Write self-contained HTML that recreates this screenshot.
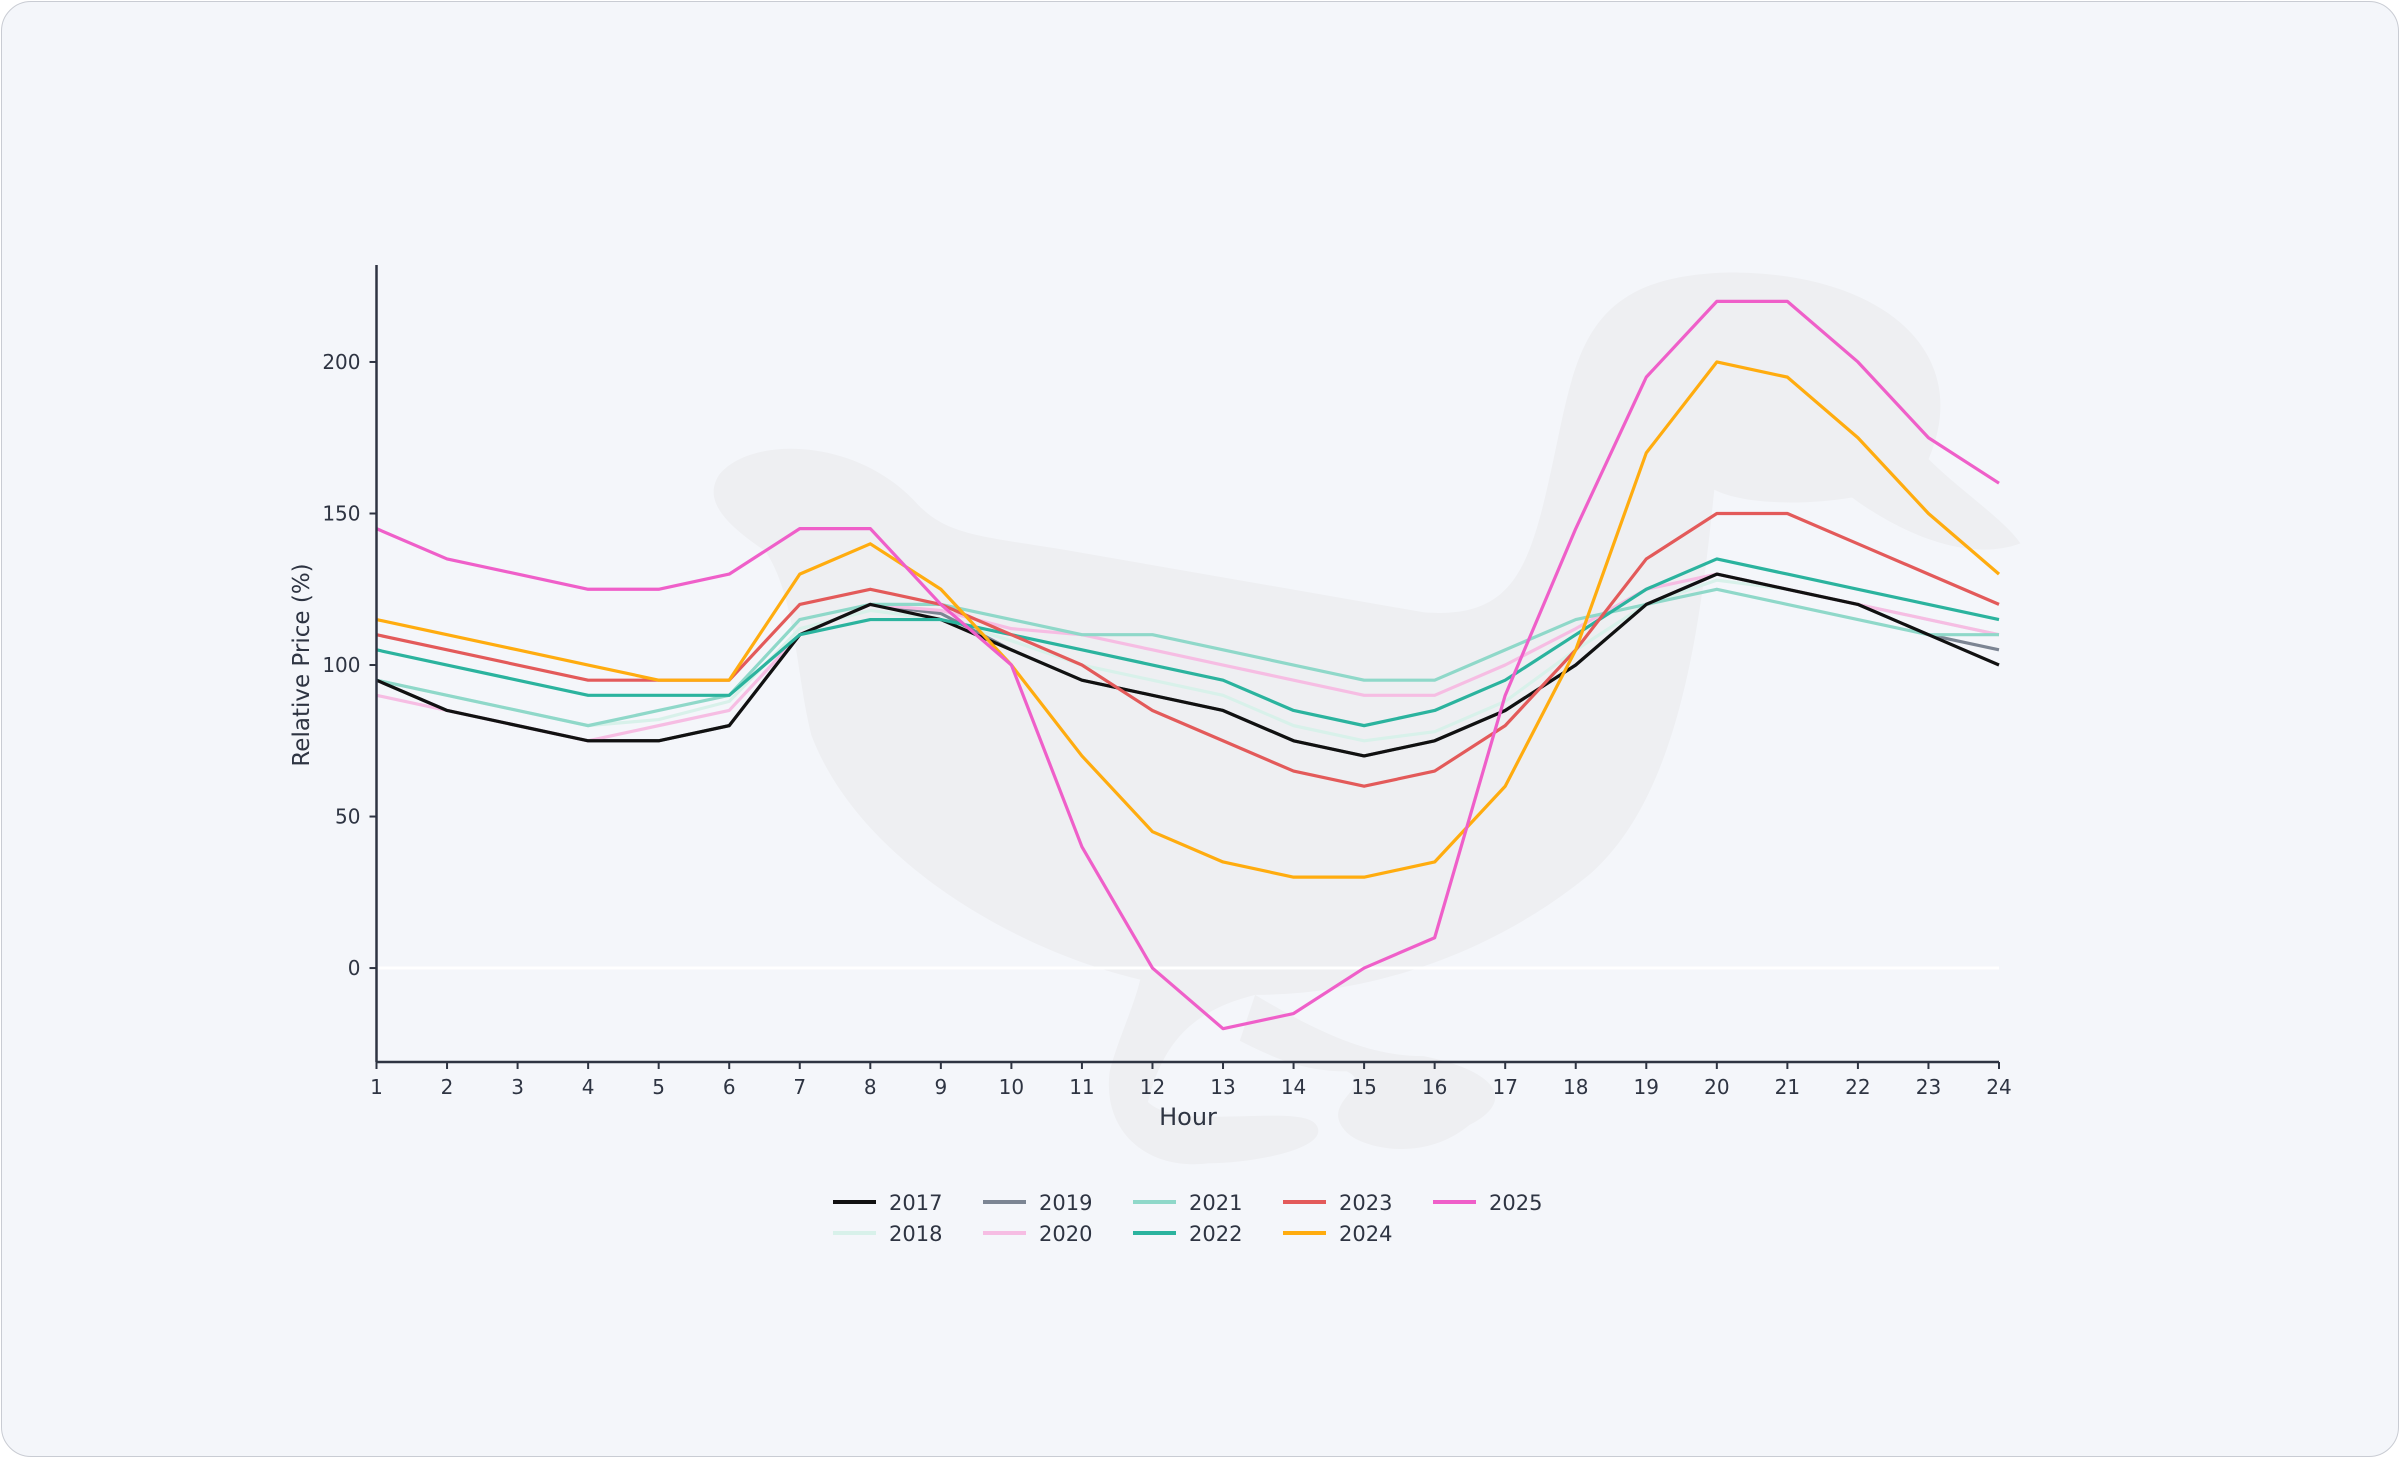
<!DOCTYPE html>
<html><head><meta charset="utf-8"><style>
html,body{margin:0;padding:0;background:#fff;}
#card{position:absolute;left:1px;top:1px;width:2396px;height:1454px;background:#f4f6fa;border:1.5px solid #c9ccd3;border-radius:30px;overflow:hidden;}
svg{position:absolute;left:0;top:0;}
text{font-family:"DejaVu Sans","Liberation Sans",sans-serif;fill:#2e3442;}
</style></head><body>
<div id="card"></div>
<svg id="chart" width="2400" height="1458">
<g transform="scale(1.5306)" fill="#eeeff2">
<path d="M470,310 C490,285 560,285 600,330 C620,350 640,350 700,360 L930,400 C990,405 1000,370 1015,300 C1030,230 1035,180 1130,178 C1230,178 1290,230 1260,300 C1280,320 1310,340 1320,355 C1280,370 1230,340 1210,325 C1180,330 1140,330 1120,320 C1110,420 1095,520 1040,570 C980,620 900,650 820,650 C780,660 760,680 750,720 C770,740 850,720 860,735 C870,750 820,760 790,760 C750,765 720,740 725,700 C730,680 740,660 745,640 C660,620 560,560 530,480 C520,440 520,390 500,360 C470,340 460,325 470,310 Z"/>
<path d="M820,650 C870,680 900,690 930,690 C980,700 990,720 960,735 C930,760 890,750 880,740 C860,720 900,710 880,700 C850,700 830,690 810,680 Z"/>
</g>
</svg>
<script>
const hours=[1,2,3,4,5,6,7,8,9,10,11,12,13,14,15,16,17,18,19,20,21,22,23,24];
const yTicks=[0,50,100,150,200];
const years=["2017","2018","2019","2020","2021","2022","2023","2024","2025"];
const colors=["#111111","#d8f1ea","#7c8593","#f6bde3","#8fd8c9","#2bb39e","#e35a5a","#ffac0f","#ef5fc9"];
const s2017=[95,85,80,75,75,80,110,120,115,105,95,90,85,75,70,75,85,100,120,130,125,120,110,100];
const s2018=[95,90,85,80,82,88,112,118,115,108,100,95,90,80,75,78,88,105,120,128,125,120,115,110];
const s2019=[95,85,80,75,75,80,110,120,117,105,95,90,85,75,70,75,85,100,120,130,125,120,110,105];
const s2020=[90,85,80,75,80,85,110,120,118,112,110,105,100,95,90,90,100,112,125,130,125,120,115,110];
const s2021=[95,90,85,80,85,90,115,120,120,115,110,110,105,100,95,95,105,115,120,125,120,115,110,110];
const s2022=[105,100,95,90,90,90,110,115,115,110,105,100,95,85,80,85,95,110,125,135,130,125,120,115];
const s2023=[110,105,100,95,95,95,120,125,120,110,100,85,75,65,60,65,80,105,135,150,150,140,130,120];
const s2024=[115,110,105,100,95,95,130,140,125,100,70,45,35,30,30,35,60,105,170,200,195,175,150,130];
const s2025=[145,135,130,125,125,130,145,145,120,100,40,0,-20,-15,0,10,90,145,195,220,220,200,175,160];
const series=[s2017,s2018,s2019,s2020,s2021,s2022,s2023,s2024,s2025];
const drawOrder=[1,2,3,4,0,5,6,7,8];
const NS="http://www.w3.org/2000/svg";
const svg=document.getElementById('chart');
const X0=376.5,X1=1999,YMIN=-31,YMAX=232,YB=1062,YT=265;
const xs=h=>X0+(h-1)/(23)*(X1-X0);
const ys=v=>YB-(v-YMIN)/(YMAX-YMIN)*(YB-YT);
function mk(t,a){const e=document.createElementNS(NS,t);for(const k in a)e.setAttribute(k,a[k]);svg.appendChild(e);return e;}
const zl=mk('line',{x1:X0,x2:X1,y1:ys(0),y2:ys(0),stroke:'#ffffff','stroke-width':3});


drawOrder.forEach(i=>{
 const p=mk('polyline',{points:series[i].map((v,j)=>xs(hours[j])+','+ys(v)).join(' '),fill:'none',stroke:colors[i],'stroke-width':3.2,'stroke-linejoin':'round'});
 
 
});
const ya=mk('line',{x1:X0,x2:X0,y1:YT,y2:YB,stroke:'#2e3442','stroke-width':2.5});


const xa=mk('line',{x1:X0,x2:X1,y1:YB,y2:YB,stroke:'#2e3442','stroke-width':2.5});


yTicks.forEach(v=>{
 mk('line',{x1:X0-7,x2:X0,y1:ys(v),y2:ys(v),stroke:'#2e3442','stroke-width':2});
 const t=mk('text',{x:X0-16,y:ys(v)+7,'text-anchor':'end','font-size':20});
 t.textContent=v;
 
 
});
hours.forEach(h=>{
 mk('line',{x1:xs(h),x2:xs(h),y1:YB,y2:YB+7,stroke:'#2e3442','stroke-width':2});
 const t=mk('text',{x:xs(h),y:YB+32,'text-anchor':'middle','font-size':20});
 t.textContent=h;
 
 
});
const xt=mk('text',{x:1188,y:1125,'text-anchor':'middle','font-size':24});
xt.textContent='Hour';


const yt=mk('text',{x:0,y:0,'text-anchor':'middle','font-size':23,transform:'translate(309,665) rotate(-90)'});
yt.textContent='Relative Price (%)';


years.forEach((y,i)=>{
 const col=Math.floor(i/2),row=i%2;
 const lx=833+col*150,ly=1202+row*31;
 const l=mk('line',{x1:lx,x2:lx+43,y1:ly,y2:ly,stroke:colors[i],'stroke-width':4});
 
 
 const t=mk('text',{x:lx+56,y:ly+8,'font-size':21});
 t.textContent=y;
 
 
});
</script>
</body></html>
